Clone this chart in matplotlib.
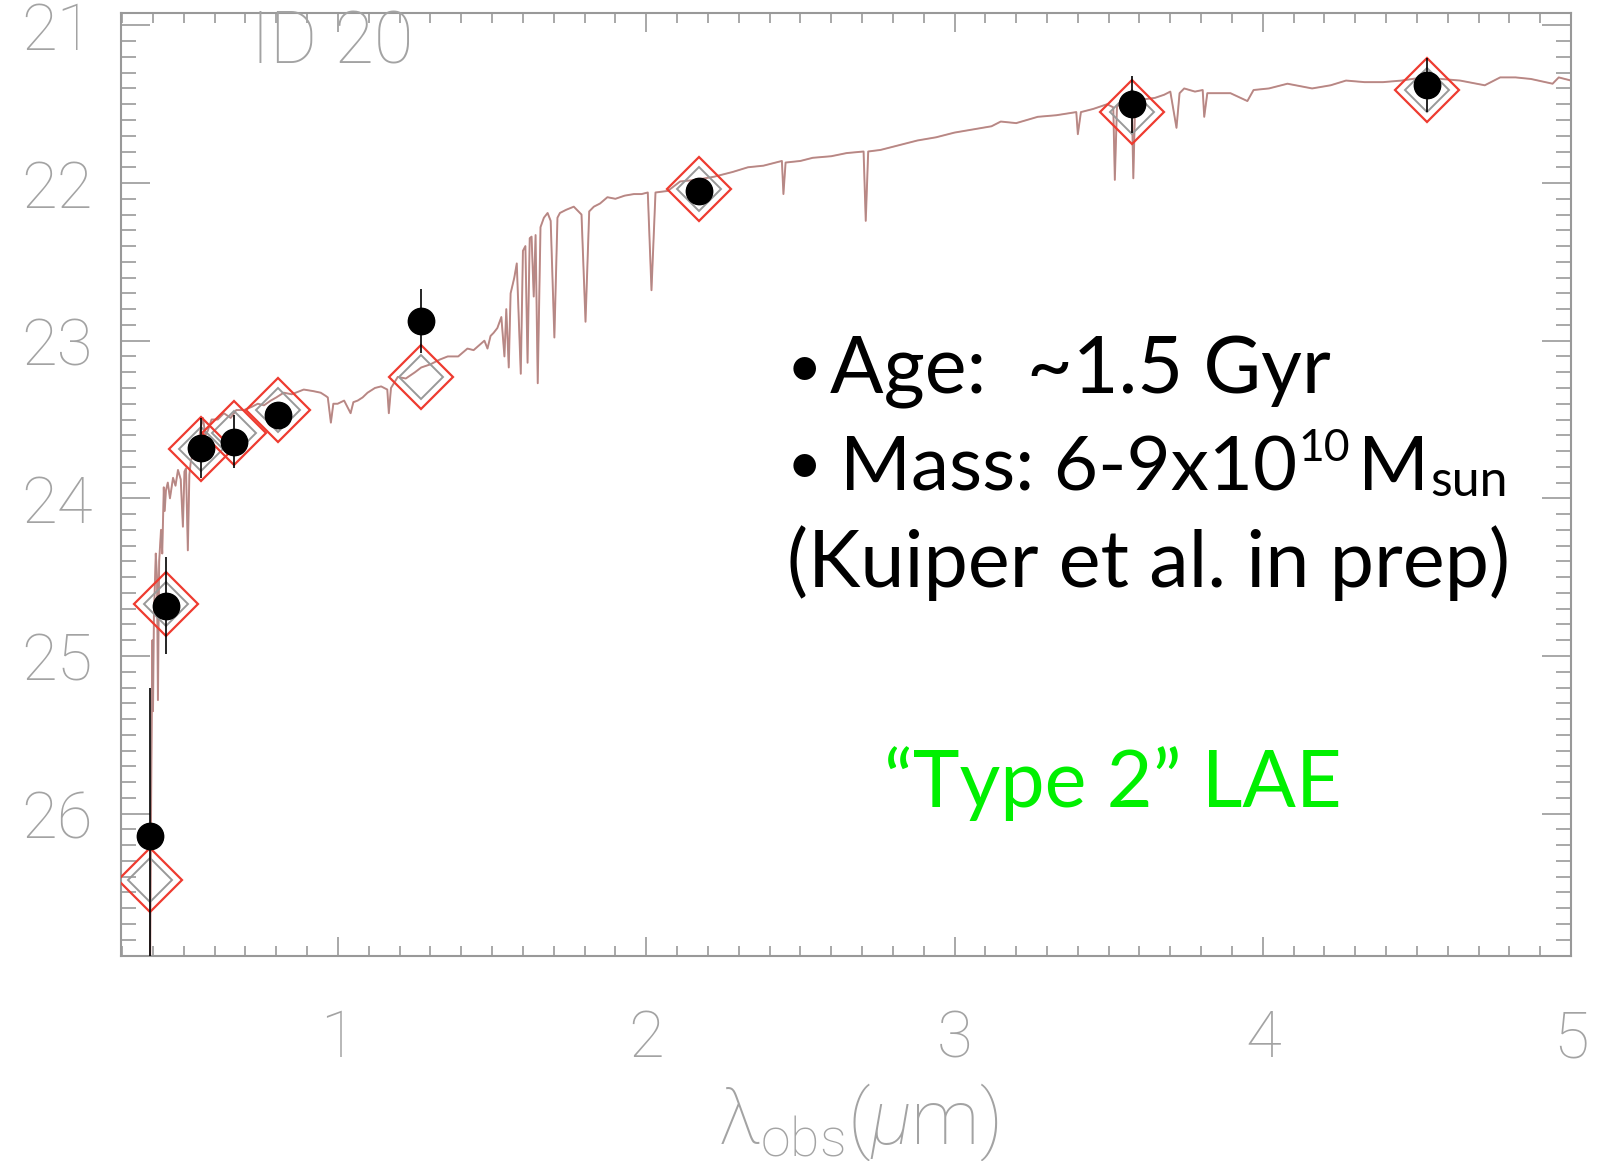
import numpy as np
import matplotlib
matplotlib.use("Agg")
import matplotlib.pyplot as plt
from matplotlib.ticker import MultipleLocator

# photometry: observed wavelength (micron), AB mag, error, model mag
phot_wl = [0.391, 0.443, 0.557, 0.663, 0.804, 1.268, 2.170, 3.577, 4.533]
phot_mag = [26.14, 24.68, 23.68, 23.64, 23.47, 22.875, 22.05, 21.50, 21.38]
phot_err = [0.94, 0.31, 0.19, 0.17, 0.08, 0.20, 0.06, 0.18, 0.17]
model_mag = [26.42, 24.67, 23.69, 23.585, 23.44, 23.23, 22.035, 21.55, 21.41]

# best fit template spectrum
spec_wl = [0.390, 0.394, 0.398, 0.400, 0.403, 0.406, 0.409, 0.413, 0.416, 0.420,
           0.426, 0.430, 0.435, 0.438, 0.442, 0.448, 0.455, 0.465, 0.473, 0.481,
           0.490, 0.497, 0.502, 0.507, 0.513, 0.518, 0.523, 0.530, 0.545, 0.555,
           0.562, 0.570, 0.578, 0.590, 0.610, 0.630, 0.652, 0.670, 0.695, 0.720,
           0.740, 0.760, 0.782, 0.800, 0.824, 0.850, 0.889, 0.920, 0.944, 0.960,
           0.967, 0.977, 0.985, 0.999, 1.020, 1.041, 1.050, 1.064, 1.080, 1.096,
           1.120, 1.140, 1.160, 1.165, 1.172, 1.194, 1.220, 1.250, 1.270, 1.300,
           1.330, 1.356, 1.390, 1.420, 1.440, 1.463, 1.475, 1.485, 1.495, 1.505,
           1.517, 1.530, 1.540, 1.546, 1.554, 1.560, 1.572, 1.580, 1.593, 1.600,
           1.608, 1.615, 1.622, 1.628, 1.635, 1.641, 1.648, 1.657, 1.668, 1.680,
           1.690, 1.702, 1.712, 1.720, 1.740, 1.765, 1.790, 1.803, 1.815, 1.830,
           1.850, 1.874, 1.900, 1.930, 1.960, 1.985, 2.005, 2.017, 2.030, 2.070,
           2.110, 2.160, 2.220, 2.280, 2.330, 2.380, 2.440, 2.445, 2.452, 2.500,
           2.540, 2.600, 2.650, 2.705, 2.712, 2.720, 2.760, 2.820, 2.880, 2.940,
           3.000, 3.060, 3.120, 3.150, 3.200, 3.270, 3.330, 3.395, 3.400, 3.410,
           3.450, 3.495, 3.515, 3.520, 3.527, 3.555, 3.575, 3.580, 3.586, 3.610,
           3.650, 3.680, 3.700, 3.720, 3.730, 3.745, 3.780, 3.805, 3.810, 3.820,
           3.895, 3.950, 3.970, 4.020, 4.080, 4.160, 4.220, 4.270, 4.330, 4.390,
           4.450, 4.520, 4.580, 4.640, 4.720, 4.770, 4.820, 4.870, 4.940, 4.960,
           5.000]
spec_mag = [27.20, 25.90, 24.90, 25.35, 24.75, 24.55, 24.35, 24.50, 25.28, 24.40,
            24.20, 24.35, 23.93, 24.08, 23.95, 23.90, 24.00, 23.87, 23.92, 23.82,
            23.88, 24.18, 23.83, 23.81, 24.33, 23.85, 23.76, 23.72, 23.68, 23.55,
            23.49, 23.60, 23.57, 23.50, 23.50, 23.46, 23.49, 23.44, 23.44, 23.42,
            23.40, 23.41, 23.38, 23.36, 23.33, 23.34, 23.31, 23.32, 23.33, 23.35,
            23.36, 23.52, 23.40, 23.40, 23.38, 23.46, 23.39, 23.38, 23.36, 23.33,
            23.30, 23.29, 23.31, 23.46, 23.30, 23.23, 23.24, 23.20, 23.17, 23.15,
            23.12, 23.10, 23.10, 23.05, 23.06, 23.02, 23.00, 23.05, 22.97, 22.95,
            22.92, 22.85, 23.10, 22.80, 23.17, 22.70, 22.60, 22.51, 23.21, 22.43,
            22.40, 23.14, 22.35, 22.34, 22.72, 22.33, 23.27, 22.28, 22.22, 22.19,
            22.24, 22.98, 22.22, 22.19, 22.17, 22.15, 22.20, 22.88, 22.18, 22.15,
            22.13, 22.09, 22.10, 22.08, 22.07, 22.07, 22.06, 22.68, 22.06, 22.05,
            21.99, 21.98, 21.96, 21.93, 21.90, 21.89, 21.86, 22.07, 21.87, 21.86,
            21.84, 21.83, 21.81, 21.80, 22.24, 21.80, 21.79, 21.76, 21.73, 21.71,
            21.68, 21.66, 21.64, 21.61, 21.62, 21.58, 21.57, 21.55, 21.69, 21.55,
            21.53, 21.50, 21.52, 21.98, 21.51, 21.50, 21.48, 21.97, 21.48, 21.47,
            21.46, 21.44, 21.42, 21.65, 21.43, 21.40, 21.42, 21.41, 21.58, 21.43,
            21.43, 21.48, 21.41, 21.40, 21.37, 21.40, 21.38, 21.35, 21.36, 21.36,
            21.35, 21.33, 21.34, 21.35, 21.38, 21.33, 21.33, 21.34, 21.37, 21.33,
            21.35]

plt.rcParams['mathtext.fontset'] = 'custom'
plt.rcParams['mathtext.rm'] = 'Roboto:light'
plt.rcParams['mathtext.it'] = 'Roboto:italic:light'

axis_grey = '#999999'
label_grey = '#a3a3a3'
thin = dict(family=['Roboto', 'DejaVu Sans'], weight='light')

fig = plt.figure(figsize=(16.02, 11.61), dpi=100)
ax = fig.add_axes([0.0753, 0.177, 0.9054, 0.812])

ax.plot(spec_wl, spec_mag, color='#cc8884', lw=1.4, zorder=1)
ax.plot(spec_wl, spec_mag, color='#8c8c8c', lw=0.8, alpha=0.45, zorder=1)

ax.plot(phot_wl, model_mag, ls='none', marker='D', ms=22, mfc='none',
        mec='#999999', mew=1.4, zorder=2)
ax.plot(phot_wl, model_mag, ls='none', marker='D', ms=32.5, mfc='none',
        mec='#ee3b30', mew=1.6, zorder=3)
ax.errorbar(phot_wl, phot_mag, yerr=phot_err, fmt='o', ms=19, color='black',
            ecolor='black', elinewidth=1.2, capsize=0, zorder=4)

ax.set_xlim(0.295, 5.0)
ax.set_ylim(26.9, 20.92)
ax.xaxis.set_major_locator(MultipleLocator(1))
ax.xaxis.set_minor_locator(MultipleLocator(0.1))
ax.yaxis.set_major_locator(MultipleLocator(1))
ax.yaxis.set_minor_locator(MultipleLocator(0.1))
ax.tick_params(which='both', direction='in', top=True, right=True,
               color=axis_grey, width=1.2, labelcolor=label_grey)
ax.tick_params(axis='x', which='major', length=14, pad=38)
ax.tick_params(axis='x', which='minor', length=7)
ax.tick_params(axis='y', which='major', length=21, pad=20)
ax.tick_params(axis='y', which='minor', length=10.5)
for lab in ax.get_xticklabels() + ax.get_yticklabels():
    lab.set_fontsize(47)
    lab.set_family(thin['family'])
    lab.set_weight('light')
for sp in ax.spines.values():
    sp.set_color(axis_grey)
    sp.set_linewidth(1.5)

ax.text(0.1458, 0.967, 'ID 20', transform=ax.transAxes, ha='center',
        va='center', fontsize=52, color=label_grey, **thin)
fig.text(858 / 1602, 1 - 1122 / 1161,
         r'$\mathrm{\lambda}_{\rm obs}(\mu{\rm m})$',
         ha='center', va='center', fontsize=55, color=label_grey)

# annotation block
big = dict(family=['Lato', 'DejaVu Sans'], color='black')
xb = 0.4595
y1, y2, y3 = 0.5966, 0.4937, 0.3909
for yy in (y1, y2):
    ax.text(xb, yy + 0.006, '\u2022', transform=ax.transAxes, va='baseline',
            fontsize=44, **big)
ax.text(0.489, y1, 'Age:  ~1.5 Gyr', transform=ax.transAxes,
        va='baseline', fontsize=57, **big)
t_mass = ax.text(0.496, y2, 'Mass: 6-9x10', transform=ax.transAxes,
                 va='baseline', fontsize=55, **big)
ax.text(xb, y3, '(Kuiper et al. in prep)', transform=ax.transAxes,
        va='baseline', fontsize=57, **big)

r = fig.canvas.get_renderer()
inv = ax.transAxes.inverted()
bb = t_mass.get_window_extent(r)
xs = inv.transform((bb.x1 + 1, 0))[0]
t_sup = ax.text(xs, y2 + 0.031, '10', transform=ax.transAxes,
                va='baseline', fontsize=32, **big)
bb = t_sup.get_window_extent(r)
xm = inv.transform((bb.x1 + 8, 0))[0]
t_m = ax.text(xm, y2, 'M', transform=ax.transAxes, va='baseline',
              fontsize=55, **big)
bb = t_m.get_window_extent(r)
xsun = inv.transform((bb.x1 + 1, 0))[0]
ax.text(xsun, y2 - 0.006, 'sun', transform=ax.transAxes, va='baseline',
        fontsize=36, **big)

ax.text(0.684, 0.1575, '\u201cType 2\u201d LAE', transform=ax.transAxes,
        ha='center', va='baseline', fontsize=57, color='#00f000',
        family=['Lato', 'DejaVu Sans'])

fig.savefig('out.png', dpi=100)
